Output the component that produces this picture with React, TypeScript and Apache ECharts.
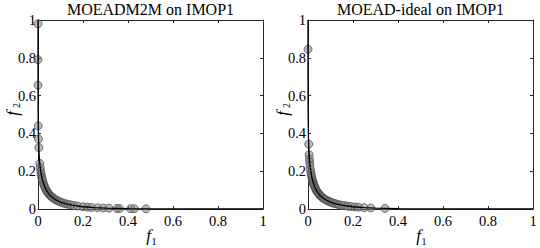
import React, { useEffect, useRef } from "react";
import * as echarts from "echarts";

// True Pareto front of IMOP1
const FRONT_F1 = [0, 0, 0, 0.00001, 0.0001, 0.0005, 0.001, 0.002, 0.004, 0.006, 0.008, 0.01, 0.015, 0.02, 0.03, 0.04, 0.05, 0.06, 0.08, 0.1, 0.12, 0.15, 0.2, 0.25, 0.3, 0.4, 0.5, 0.6, 0.7, 0.8, 0.9, 1];
const FRONT_F2 = [1, 0.96, 0.88, 0.793, 0.656, 0.523, 0.457, 0.387, 0.314, 0.271, 0.241, 0.219, 0.179, 0.152, 0.116, 0.093, 0.077, 0.065, 0.048, 0.0367, 0.0287, 0.0204, 0.012, 0.0074, 0.0046, 0.0018, 0.0006, 0.0002, 0.00005, 0.00001, 0, 0];

// MOEADM2M population
const M2M_F1 = [0, 0, 0.0001, 0.0012, 0.0023, 0.0036, 0.008, 0.01, 0.012, 0.014, 0.016, 0.018, 0.02, 0.023, 0.026, 0.029, 0.032, 0.036, 0.04, 0.044, 0.048, 0.053, 0.058, 0.064, 0.07, 0.077, 0.085, 0.093, 0.102, 0.112, 0.122, 0.133, 0.145, 0.16, 0.175, 0.2, 0.22, 0.238, 0.265, 0.29, 0.315, 0.35, 0.362, 0.412, 0.428, 0.48];
const M2M_F2 = [0.98, 0.79, 0.655, 0.44, 0.37, 0.325, 0.241, 0.219, 0.2, 0.185, 0.172, 0.161, 0.152, 0.139, 0.128, 0.119, 0.111, 0.102, 0.093, 0.086, 0.08, 0.073, 0.067, 0.061, 0.056, 0.05, 0.045, 0.04, 0.036, 0.032, 0.028, 0.025, 0.022, 0.018, 0.016, 0.012, 0.0099, 0.0083, 0.0064, 0.005, 0.004, 0.0029, 0.0025, 0.0016, 0.0013, 0.0008];

// MOEAD-ideal population
const IDEAL_F1 = [0, 0.003, 0.005, 0.0065, 0.0075, 0.009, 0.011, 0.013, 0.015, 0.017, 0.019, 0.021, 0.023, 0.025, 0.027, 0.03, 0.033, 0.036, 0.039, 0.042, 0.046, 0.05, 0.054, 0.058, 0.063, 0.068, 0.074, 0.08, 0.087, 0.094, 0.102, 0.11, 0.119, 0.128, 0.138, 0.15, 0.163, 0.176, 0.19, 0.208, 0.225, 0.25, 0.279, 0.342];
const IDEAL_F2 = [0.845, 0.343, 0.287, 0.263, 0.248, 0.229, 0.209, 0.192, 0.179, 0.167, 0.156, 0.147, 0.139, 0.132, 0.125, 0.116, 0.108, 0.102, 0.095, 0.09, 0.083, 0.077, 0.072, 0.067, 0.062, 0.057, 0.052, 0.048, 0.044, 0.04, 0.036, 0.032, 0.029, 0.026, 0.023, 0.02, 0.018, 0.015, 0.013, 0.011, 0.0094, 0.0074, 0.0056, 0.0031];

const TITLES = ["MOEADM2M on IMOP1", "MOEAD-ideal on IMOP1"];
const TICK_MIN = 0;
const TICK_MAX = 1;
const TICK_STEP = 0.2;

const SERIF = "Liberation Serif";
const AXIS_COLOR = "#262626";

function zip(a: number[], b: number[]) {
  return a.map((v, i) => [v, b[i]]);
}

function txt(text: string, size: number, italic = false) {
  return {
    text,
    fontFamily: SERIF,
    fontSize: size,
    fontStyle: italic ? "italic" : "normal",
    fill: "#000",
    align: "center",
    verticalAlign: "middle",
  };
}

export default function App() {
  const ref = useRef<HTMLDivElement>(null);
  useEffect(() => {
    document.body.style.margin = "0";
    const chart = echarts.init(ref.current!, undefined, { renderer: "svg" });
    const grids = [
      { left: 38, top: 20, width: 225, height: 189 },
      { left: 308, top: 20, width: 225, height: 189 },
    ];
    const xAxes: any[] = [];
    const yAxes: any[] = [];
    grids.forEach((_, gi) => {
      ["bottom", "top"].forEach((pos, k) => {
        xAxes.push({
          type: "value",
          gridIndex: gi,
          position: pos,
          min: TICK_MIN,
          max: TICK_MAX,
          interval: TICK_STEP,
          splitLine: { show: false },
          axisLine: { show: true, onZero: false, lineStyle: { color: AXIS_COLOR, width: 1 } },
          axisTick: { show: true, inside: true, length: 3, lineStyle: { color: AXIS_COLOR } },
          axisLabel: {
            show: k === 0,
            margin: 4,
            color: "#000",
            fontFamily: SERIF,
            fontSize: 14.5,
          },
        });
      });
      ["left", "right"].forEach((pos, k) => {
        yAxes.push({
          type: "value",
          gridIndex: gi,
          position: pos,
          min: TICK_MIN,
          max: TICK_MAX,
          interval: TICK_STEP,
          splitLine: { show: false },
          axisLine: { show: true, onZero: false, lineStyle: { color: AXIS_COLOR, width: 1 } },
          axisTick: { show: true, inside: true, length: 3, lineStyle: { color: AXIS_COLOR } },
          axisLabel: {
            show: k === 0,
            margin: 2,
            color: "#000",
            fontFamily: SERIF,
            fontSize: 14.5,
          },
        });
      });
    });

    const pops = [zip(M2M_F1, M2M_F2), zip(IDEAL_F1, IDEAL_F2)];
    const front = zip(FRONT_F1, FRONT_F2);
    const series: any[] = [];
    pops.forEach((pop, gi) => {
      series.push({
        type: "scatter",
        xAxisIndex: gi * 2,
        yAxisIndex: gi * 2,
        data: pop,
        symbol: "circle",
        symbolSize: 8,
        clip: false,
        z: 2,
        itemStyle: {
          color: "rgba(125,125,125,0.65)",
          borderColor: "#4a4a4a",
          borderWidth: 0.9,
        },
      });
      series.push({
        type: "line",
        xAxisIndex: gi * 2,
        yAxisIndex: gi * 2,
        data: front,
        showSymbol: false,
        symbol: "none",
        z: 3,
        lineStyle: { color: "#000", width: 1.3 },
      });
    });

    const graphic: any[] = [];
    grids.forEach((g, gi) => {
      const cx = g.left + g.width / 2;
      const cy = g.top + g.height / 2;
      graphic.push({ type: "text", x: cx, y: 9, style: txt(TITLES[gi], 16) });
      graphic.push({ type: "text", x: cx - 2, y: 235, style: txt("f", 17, true) });
      graphic.push({ type: "text", x: cx + 3.5, y: 241.5, style: txt("1", 10) });
      graphic.push({
        type: "group",
        x: gi * 270 + 12,
        y: cy - 3,
        rotation: Math.PI / 2,
        children: [
          { type: "text", x: -2, y: 0, style: txt("f", 17, true) },
          { type: "text", x: 6, y: 4, style: txt("2", 10) },
        ],
      });
    });

    chart.setOption({
      animation: false,
      backgroundColor: "#fff",
      grid: grids.map((g) => ({ ...g, containLabel: false, outerBoundsMode: "none" })),
      xAxis: xAxes,
      yAxis: yAxes,
      series,
      graphic,
    });
    return () => chart.dispose();
  }, []);
  return <div ref={ref} style={{ width: 540, height: 248 }} />;
}
